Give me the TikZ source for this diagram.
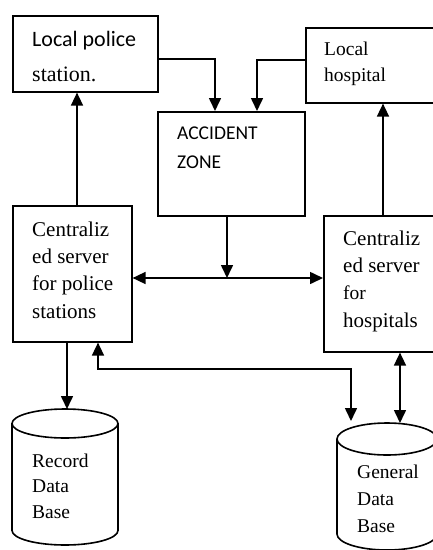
\documentclass[tikz,border=0pt]{standalone}
\usepackage{fontspec}
\setmainfont{Liberation Serif}
\newfontfamily\calfont{Carlito}
\usetikzlibrary{arrows.meta}
\tikzset{
  line/.style={line width=1.6pt},
  box/.style={line, draw, rectangle, inner sep=0pt, anchor=north west},
  arr/.style={line, -{Triangle[length=13pt,width=12pt]}},
  arrtwo/.style={line, {Triangle[length=13pt,width=12pt]}-{Triangle[length=13pt,width=12pt]}},
  txt/.style={anchor=base west, inner sep=0pt, align=left},
}
\begin{document}
\begin{tikzpicture}[x=1pt,y=-1pt]
\useasboundingbox (0,0) rectangle (433,550);
\clip (0,0) rectangle (433,550);
% boxes
\node[box, minimum width=145pt, minimum height=76pt] (lps) at (12,15) {};
\node[box, minimum width=140pt, minimum height=75pt] (lh) at (305,27) {};
\node[box, minimum width=147pt, minimum height=104pt] (acc) at (157,111) {};
\node[box, minimum width=119pt, minimum height=136pt] (ps) at (12,205) {};
\node[box, minimum width=130pt, minimum height=136pt] (hs) at (323,215) {};
% texts (anchor = baseline of the last line)
\node[txt, font=\calfont\fontsize{22}{35}\selectfont] (t1) at (32,46) {Local police};
\node[txt, font=\fontsize{22}{35}\selectfont] (t2) at (32,81) {station.};
\node[txt, font=\fontsize{19.5}{26}\selectfont] (t3) at (324,81) {Local\\hospital};
\node[txt, font=\calfont\fontsize{19.5}{29}\selectfont] (t4) at (177,168) {ACCIDENT\\ZONE};
\node[txt, font=\fontsize{21}{27.33}\selectfont] (t5) at (32,318) {Centraliz\\ed server\\for police\\stations};
\node[txt, font=\fontsize{21}{27.33}\selectfont] (t6) at (343,327) {Centraliz\\ed server\\{\fontsize{19.5}{27.33}\selectfont for}\\hospitals};
\node[txt, font=\fontsize{19.5}{25.5}\selectfont] (t7) at (32,518) {Record\\Data\\Base};
\node[txt, font=\fontsize{19.5}{27}\selectfont] (t8) at (357,532) {General\\Data\\Base};
% cylinders
\draw[line] (12,423.5) -- (12,530.5) arc[start angle=180,end angle=360,x radius=53pt,y radius=14.5pt] -- (118,423.5);
\draw[line] (65,423.5) ellipse [x radius=53pt, y radius=14.5pt];
\coordinate (rdbtop) at (67,409);
\draw[line] (337,439) -- (337,534) arc[start angle=180,end angle=360,x radius=50pt,y radius=16pt] -- (437,439);
\draw[line] (387,439) ellipse [x radius=50pt, y radius=16pt];
\coordinate (gdbtop) at (400,423);
\coordinate (gdbtopl) at (351,421);
% connectors
\coordinate (c1) at (215,59);
\draw[arr] (lps.east |- c1) -- (c1) -- (c1 |- acc.north);
\coordinate (c2) at (257,60);
\draw[arr] (lh.west |- c2) -- (c2) -- (c2 |- acc.north);
\coordinate (c3) at (77,0);
\draw[arr] (c3 |- ps.north) -- (c3 |- lps.south);
\coordinate (c4) at (383,0);
\draw[arr] (c4 |- hs.north) -- (c4 |- lh.south);
\coordinate (c5) at (227,278);
\draw[arrtwo] (ps.east |- c5) -- (hs.west |- c5);
\draw[arr] (c5 |- acc.south) -- (c5);
\coordinate (c6) at (67,0);
\draw[arr] (c6 |- ps.south) -- (rdbtop);
\coordinate (c7) at (351,369);
\coordinate (c8) at (98,369);
\draw[arrtwo] (gdbtopl) -- (c7) -- (c8) -- (c8 |- ps.south);
\draw[arrtwo] (gdbtop |- hs.south) -- (gdbtop);
\end{tikzpicture}
\end{document}
